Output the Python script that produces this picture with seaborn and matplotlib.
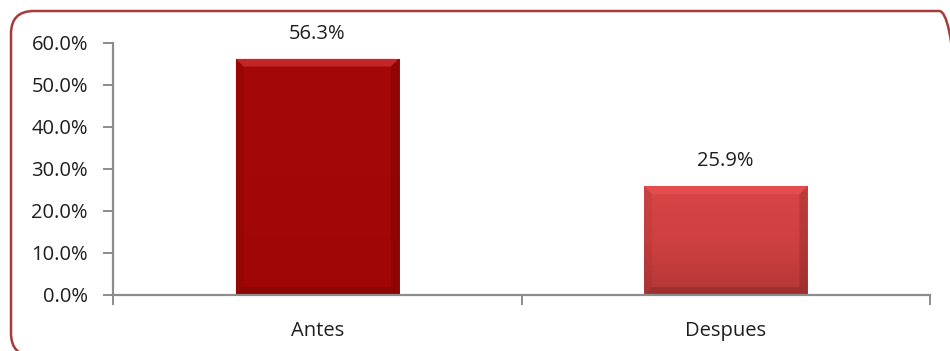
import numpy as np
import pandas as pd
import matplotlib
matplotlib.use("Agg")
import matplotlib.pyplot as plt
import seaborn as sns
from matplotlib.patches import FancyBboxPatch, Polygon
from matplotlib.ticker import PercentFormatter, FixedLocator
from matplotlib.colors import LinearSegmentedColormap

categories = ["Antes", "Despues"]
values = [56.3, 25.9]
value_labels = ["56.3%", "25.9%"]
y_ticks = [0, 10, 20, 30, 40, 50, 60]

sns.set_theme(style="white")
plt.rcParams["font.family"] = ["Open Sans", "DejaVu Sans"]

W, H = 950, 351
fig = plt.figure(figsize=(W / 100, H / 100), dpi=100)
fig.patch.set_facecolor("white")

# rounded frame; its right and bottom edges run just past the canvas
frame = FancyBboxPatch((11 / W, -5 / H), (962 - 11) / W, (340 + 5) / H,
                       boxstyle="round,pad=0,rounding_size=0.024",
                       transform=fig.transFigure, fill=False,
                       edgecolor="#a83a3a", linewidth=1.8,
                       mutation_aspect=W / H)
fig.patches.append(frame)

ax = fig.add_axes([113 / W, (H - 295) / H, (930 - 113) / W, (295 - 43) / H])
df = pd.DataFrame({"periodo": categories, "pct": values})
colors = ["#a30707", "#d64343"]
sns.barplot(data=df, x="periodo", y="pct", hue="periodo", palette=colors,
            width=0.4, legend=False, ax=ax, edgecolor="#8a2020", linewidth=0.5)

ax.set_xlim(-0.5, 1.5)
ax.set_ylim(0, 60)
ax.set_yticks(y_ticks)
ax.yaxis.set_major_formatter(PercentFormatter(decimals=1))
ax.set_xlabel("")
ax.set_ylabel("")

# vertical shading inside each bar
grad_maps = [
    LinearSegmentedColormap.from_list("g0", ["#a10606", "#a30707", "#a50808"]),
    LinearSegmentedColormap.from_list("g1", ["#b53636", "#cf4141", "#d84545"]),
]
ax_w_px = 930 - 113
ax_h_px = 295 - 43
dx = 8 * 2.0 / ax_w_px      # bevel width in data units (x spans 2)
dy = 8 * 60.0 / ax_h_px     # bevel height in data units (y spans 60)
for patch, cmap in zip(ax.patches, grad_maps):
    x0, y0 = patch.get_x(), patch.get_y()
    w, h = patch.get_width(), patch.get_height()
    x1, y1 = x0 + w, y0 + h
    z = patch.get_zorder()
    grad = np.linspace(0, 1, 256).reshape(-1, 1)
    im = ax.imshow(grad, extent=[x0, x1, y0, y1], origin="lower",
                   cmap=cmap, aspect="auto", zorder=z + 0.1)
    im.set_clip_path(patch)
    # bevelled edges: light top, darker sides and base
    bevels = [
        ([(x0, y1), (x1, y1), (x1 - dx, y1 - dy), (x0 + dx, y1 - dy)], "#ff6060", 0.35),
        ([(x0, y0), (x0, y1), (x0 + dx, y1 - dy), (x0 + dx, y0 + dy)], "black", 0.06),
        ([(x1, y0), (x1, y1), (x1 - dx, y1 - dy), (x1 - dx, y0 + dy)], "black", 0.12),
        ([(x0, y0), (x1, y0), (x1 - dx, y0 + dy), (x0 + dx, y0 + dy)], "black", 0.12),
    ]
    for pts, col, a in bevels:
        ax.add_patch(Polygon(pts, closed=True, facecolor=col, alpha=a,
                             lw=0, zorder=z + 0.2))
ax.set_xlim(-0.5, 1.5)
ax.set_ylim(0, 60)

for i, (v, lab) in enumerate(zip(values, value_labels)):
    ax.annotate(lab, (i, v), xytext=(0, 18), textcoords="offset points",
                ha="center", va="center", fontsize=14.5, color="#1e1e1e")

for side in ("top", "right"):
    ax.spines[side].set_visible(False)
for side in ("left", "bottom"):
    ax.spines[side].set_color("#8c8c8c")
    ax.spines[side].set_linewidth(1.6)

ax.tick_params(axis="y", which="major", direction="out", length=7, width=1.4,
               color="#8c8c8c", labelsize=14.5, labelcolor="#1e1e1e", pad=11, left=True)
ax.tick_params(axis="x", which="major", length=0, labelsize=14.5,
               labelcolor="#1e1e1e", pad=19)
ax.xaxis.set_minor_locator(FixedLocator([-0.5, 0.5, 1.5]))
ax.tick_params(axis="x", which="minor", direction="out", length=7, width=1.4,
               color="#8c8c8c", bottom=True)

fig.savefig("out.png", dpi=100, facecolor="white")
